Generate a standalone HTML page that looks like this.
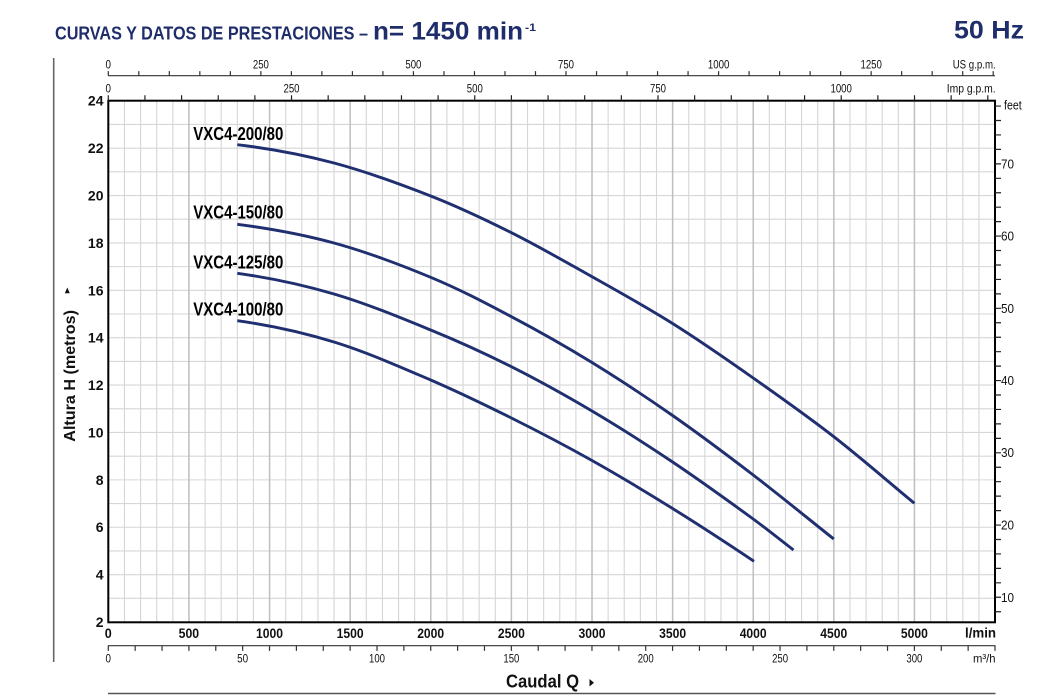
<!DOCTYPE html>
<html><head><meta charset="utf-8"><style>
html,body{margin:0;padding:0;background:#fff;}
svg{display:block;}
text{font-family:"Liberation Sans",sans-serif;}
</style></head><body>
<svg width="1050" height="700" viewBox="0 0 1050 700" xmlns="http://www.w3.org/2000/svg">
<rect width="1050" height="700" fill="#fff"/>
<!-- Title -->
<text x="55" y="39.3" font-size="18" font-weight="bold" fill="#1f2d6b" textLength="313" lengthAdjust="spacingAndGlyphs">CURVAS Y DATOS DE PRESTACIONES –</text>
<text x="373" y="39.3" font-size="25" font-weight="bold" fill="#1f2d6b" textLength="150" lengthAdjust="spacingAndGlyphs">n= 1450 min</text>
<text x="525" y="31" font-size="11" font-weight="bold" fill="#1f2d6b" textLength="11" lengthAdjust="spacingAndGlyphs">-1</text>
<text x="954" y="38.3" font-size="25" font-weight="bold" fill="#1f2d6b" textLength="70" lengthAdjust="spacingAndGlyphs">50 Hz</text>

<!-- left vertical line -->
<line x1="53.7" y1="58" x2="53.7" y2="662" stroke="#666" stroke-width="1.6"/>

<!-- grid -->
<path d="M551.6 100.2 V622.5" stroke="#d6d6d6" stroke-width="886.6" stroke-dasharray="1.1 22.595" fill="none"/>
<path d="M107.8 361.5 H995" stroke="#d6d6d6" stroke-width="521.6" stroke-dasharray="1.1 15.022" fill="none"/>
<path d="M107.6 361.5 H995" stroke="#bfbfbf" stroke-width="521.6" stroke-dasharray="1.5 79.11" fill="none"/>

<!-- frame -->
<rect x="108.3" y="100.7" width="886.7" height="521.6" fill="none" stroke="#000" stroke-width="2"/>

<!-- US gpm axis -->
<line x1="108" y1="75.7" x2="995" y2="75.7" stroke="#333" stroke-width="1.2"/>
<path d="M107.7 73.4 H995" stroke="#333" stroke-width="4.6" stroke-dasharray="1.2 29.314" fill="none"/>
<g font-size="12" fill="#111" text-anchor="middle">
<text x="108.3" y="68.3" textLength="5.5" lengthAdjust="spacingAndGlyphs">0</text>
<text x="260.9" y="68.3" textLength="16" lengthAdjust="spacingAndGlyphs">250</text>
<text x="413.4" y="68.3" textLength="16" lengthAdjust="spacingAndGlyphs">500</text>
<text x="566.0" y="68.3" textLength="16" lengthAdjust="spacingAndGlyphs">750</text>
<text x="718.6" y="68.3" textLength="21.5" lengthAdjust="spacingAndGlyphs">1000</text>
<text x="871.2" y="68.3" textLength="21.5" lengthAdjust="spacingAndGlyphs">1250</text>
</g>
<text x="952.7" y="68.3" font-size="12" fill="#111" textLength="43" lengthAdjust="spacingAndGlyphs">US g.p.m.</text>

<!-- Imp gpm axis -->
<path d="M107.7 98 H989.5" stroke="#222" stroke-width="5.4" stroke-dasharray="1.2 35.446" fill="none"/>
<g font-size="12" fill="#111" text-anchor="middle">
<text x="108.3" y="92.3" textLength="5.5" lengthAdjust="spacingAndGlyphs">0</text>
<text x="291.5" y="92.3" textLength="16" lengthAdjust="spacingAndGlyphs">250</text>
<text x="474.8" y="92.3" textLength="16" lengthAdjust="spacingAndGlyphs">500</text>
<text x="658.0" y="92.3" textLength="16" lengthAdjust="spacingAndGlyphs">750</text>
<text x="841.2" y="92.3" textLength="21.5" lengthAdjust="spacingAndGlyphs">1000</text>
</g>
<text x="946.7" y="92.3" font-size="12" fill="#111" textLength="49" lengthAdjust="spacingAndGlyphs">Imp g.p.m.</text>

<!-- feet axis -->
<path d="M998 105.45 V612.5" stroke="#222" stroke-width="6" stroke-dasharray="1.2 13.248" fill="none"/>
<g font-size="12.5" fill="#111">
<text x="1004" y="109.5" textLength="17.7" lengthAdjust="spacingAndGlyphs">feet</text>
<text x="1001" y="168.3" textLength="13" lengthAdjust="spacingAndGlyphs">70</text>
<text x="1001" y="240.5" textLength="13" lengthAdjust="spacingAndGlyphs">60</text>
<text x="1001" y="312.8" textLength="13" lengthAdjust="spacingAndGlyphs">50</text>
<text x="1001" y="385.0" textLength="13" lengthAdjust="spacingAndGlyphs">40</text>
<text x="1001" y="457.2" textLength="13" lengthAdjust="spacingAndGlyphs">30</text>
<text x="1001" y="529.4" textLength="13" lengthAdjust="spacingAndGlyphs">20</text>
<text x="1001" y="601.8" textLength="13" lengthAdjust="spacingAndGlyphs">10</text>
</g>

<!-- left axis labels -->
<g font-size="14" font-weight="bold" fill="#111" text-anchor="end">
<text x="103.5" y="105.7">24</text>
<text x="103.5" y="153.1">22</text>
<text x="103.5" y="200.5">20</text>
<text x="103.5" y="247.9">18</text>
<text x="103.5" y="295.3">16</text>
<text x="103.5" y="342.7">14</text>
<text x="103.5" y="390.1">12</text>
<text x="103.5" y="437.4">10</text>
<text x="103.5" y="484.8">8</text>
<text x="103.5" y="532.2">6</text>
<text x="103.5" y="579.6">4</text>
<text x="103.5" y="627.0">2</text>
</g>
<text transform="translate(75,441.7) rotate(-90)" font-size="16" font-weight="bold" fill="#111" textLength="131.7" lengthAdjust="spacingAndGlyphs">Altura H (metros)</text>
<polygon points="64.8,293.3 69.8,293.3 67.3,287.5" fill="#111"/>

<!-- bottom l/min labels -->
<g font-size="14" font-weight="bold" fill="#111" text-anchor="middle">
<text x="108.3" y="638" textLength="7" lengthAdjust="spacingAndGlyphs">0</text>
<text x="188.9" y="638" textLength="20.5" lengthAdjust="spacingAndGlyphs">500</text>
<text x="269.5" y="638" textLength="27" lengthAdjust="spacingAndGlyphs">1000</text>
<text x="350.1" y="638" textLength="27" lengthAdjust="spacingAndGlyphs">1500</text>
<text x="430.7" y="638" textLength="27" lengthAdjust="spacingAndGlyphs">2000</text>
<text x="511.4" y="638" textLength="27" lengthAdjust="spacingAndGlyphs">2500</text>
<text x="592.0" y="638" textLength="27" lengthAdjust="spacingAndGlyphs">3000</text>
<text x="672.6" y="638" textLength="27" lengthAdjust="spacingAndGlyphs">3500</text>
<text x="753.2" y="638" textLength="27" lengthAdjust="spacingAndGlyphs">4000</text>
<text x="833.8" y="638" textLength="27" lengthAdjust="spacingAndGlyphs">4500</text>
<text x="914.4" y="638" textLength="27" lengthAdjust="spacingAndGlyphs">5000</text>
</g>
<text x="965" y="637.5" font-size="14" font-weight="bold" fill="#111" textLength="31" lengthAdjust="spacingAndGlyphs">l/min</text>

<!-- m3/h axis -->
<line x1="108" y1="645.7" x2="995.5" y2="645.7" stroke="#333" stroke-width="1.2"/>
<path d="M107.7 648.3 H996.5" stroke="#333" stroke-width="5.2" stroke-dasharray="1.2 25.67" fill="none"/>
<g font-size="12" fill="#111" text-anchor="middle">
<text x="108.3" y="662.3" textLength="5.5" lengthAdjust="spacingAndGlyphs">0</text>
<text x="242.6" y="662.3" textLength="11" lengthAdjust="spacingAndGlyphs">50</text>
<text x="377.0" y="662.3" textLength="16" lengthAdjust="spacingAndGlyphs">100</text>
<text x="511.4" y="662.3" textLength="16" lengthAdjust="spacingAndGlyphs">150</text>
<text x="645.7" y="662.3" textLength="16" lengthAdjust="spacingAndGlyphs">200</text>
<text x="780.1" y="662.3" textLength="16" lengthAdjust="spacingAndGlyphs">250</text>
<text x="914.4" y="662.3" textLength="16" lengthAdjust="spacingAndGlyphs">300</text>
</g>
<text x="973" y="662.3" font-size="12" fill="#111" textLength="22.5" lengthAdjust="spacingAndGlyphs">m³/h</text>

<!-- Caudal Q -->
<text x="506" y="687.7" font-size="18" font-weight="bold" fill="#111" textLength="73" lengthAdjust="spacingAndGlyphs">Caudal Q</text>
<polygon points="589.5,679 589.5,686.5 594,682.75" fill="#111"/>
<line x1="108" y1="693.5" x2="995.5" y2="693.5" stroke="#555" stroke-width="1.6"/>

<!-- curves -->
<g fill="none" stroke="#1f2f70" stroke-width="2.9" stroke-linecap="butt">
<path d="M237.3 144.7 C269.5 148.5 301.8 154.45 334 163 C366.2 171.55 401.1 184.4 430.7 196 C460.3 207.6 484.5 219.25 511.4 232.7 C538.3 246.15 565.1 261.65 592 276.7 C618.9 291.75 645.7 306.6 672.6 323.5 C699.5 340.4 726.3 359.05 753.2 378 C780.1 396.95 806.9 415.8 833.8 436.7 C860.7 457.6 887.5 481.1 914.4 503.3"/>
<path d="M237.3 224.3 C269.5 228.5 301.8 234.2 334 243 C366.2 251.8 401.1 265 430.7 277.3 C460.3 289.6 484.5 302.5 511.4 316.7 C538.3 330.9 565.1 346 592 362.5 C618.9 379 645.7 396.75 672.6 415.5 C699.5 434.25 726.3 454.4 753.2 475 C780.1 495.6 806.9 517.7 833.8 539"/>
<path d="M237.3 273.3 C269.5 277.8 301.8 284.55 334 294 C366.2 303.45 401.1 317.9 430.7 330 C460.3 342.1 484.5 353.2 511.4 366.7 C538.3 380.2 565.1 395.1 592 411 C618.9 426.9 645.7 444 672.6 462 C699.5 480 726.3 499.4 753.2 519 C766.6 528.8 780.1 539.7 793.5 550"/>
<path d="M237.3 320.7 C269.5 325.2 301.8 332.1 334 342 C366.2 351.9 401.1 367.3 430.7 380 C460.3 392.7 484.5 404.6 511.4 418 C538.3 431.4 565.1 445.4 592 460.5 C618.9 475.6 645.6 491.7 672.6 508.5 C699.6 525.3 726.9 543.1 754 561.3"/>
</g>

<!-- curve labels -->
<g font-size="18" font-weight="bold" fill="#000">
<text x="193.3" y="140" textLength="90" lengthAdjust="spacingAndGlyphs">VXC4-200/80</text>
<text x="193.3" y="218.3" textLength="90" lengthAdjust="spacingAndGlyphs">VXC4-150/80</text>
<text x="193.3" y="268.3" textLength="90" lengthAdjust="spacingAndGlyphs">VXC4-125/80</text>
<text x="193.3" y="315.7" textLength="90" lengthAdjust="spacingAndGlyphs">VXC4-100/80</text>
</g>
</svg>
</body></html>
